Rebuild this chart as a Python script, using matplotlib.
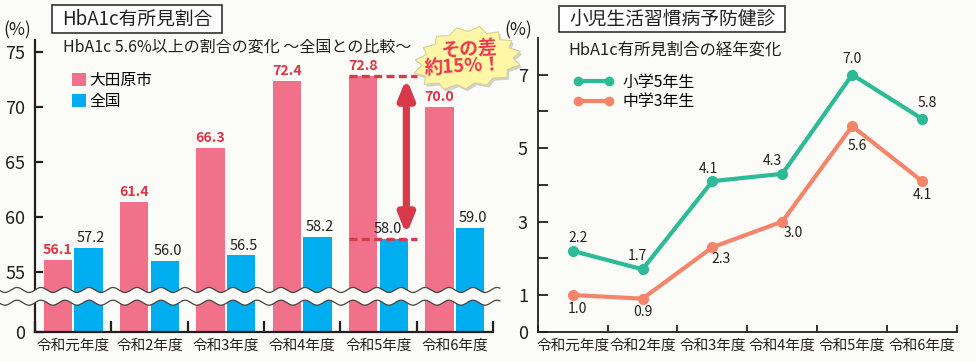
import numpy as np
import matplotlib
matplotlib.use('Agg')
import matplotlib.pyplot as plt
from matplotlib.patches import Patch, Polygon, FancyArrowPatch, Rectangle
from matplotlib.lines import Line2D

plt.rcParams['font.family'] = ['Noto Sans CJK JP', 'DejaVu Sans']

# ---------------- data ----------------
years = ['令和元年度', '令和2年度', '令和3年度', '令和4年度', '令和5年度', '令和6年度']
ohtawara = [56.1, 61.4, 66.3, 72.4, 72.8, 70.0]   # 大田原市
national = [57.2, 56.0, 56.5, 58.2, 58.0, 59.0]   # 全国
elem5 = [2.2, 1.7, 4.1, 4.3, 7.0, 5.8]            # 小学5年生
jh3 = [1.0, 0.9, 2.3, 3.0, 5.6, 4.1]              # 中学3年生
left_yticks = [0, 55, 60, 65, 70, 75]
right_yticks = [0, 1, 3, 5, 7]
right_minor = [2, 4, 6]

# ---------------- styles ----------------
W, H = 976, 362
bg = '#fbfbf8'
ink = '#231f20'
pink = '#f07189'
blue = '#00aeef'
red = '#e03345'
green = '#2dba96'
orange = '#f5856a'

fig = plt.figure(figsize=(W / 100, H / 100), dpi=100)
fig.patch.set_facecolor(bg)


def rect(x0, y0, x1, y1):
    return [x0 / W, 1 - y1 / H, (x1 - x0) / W, (y1 - y0) / H]


def fp(xp, yp):
    return (xp / W, 1 - yp / H)


axL = fig.add_axes(rect(35, 40, 493, 331.7))
axR = fig.add_axes(rect(537.7, 38, 957, 331.7))
for ax in (axL, axR):
    ax.set_facecolor('none')
    ax.spines['top'].set_visible(False)
    ax.spines['right'].set_visible(False)
    for s in ('left', 'bottom'):
        ax.spines[s].set_color(ink)

# ---------------- left: bar chart with broken axis ----------------
BRK = 55.0
LOW = 5.45


def fwd(v):
    v = np.asarray(v, dtype=float)
    return np.where(v >= BRK, v, BRK - (BRK - v) * LOW / BRK)


def inv(u):
    u = np.asarray(u, dtype=float)
    return np.where(u >= BRK, u, BRK - (BRK - u) * BRK / LOW)


axL.set_yscale('function', functions=(fwd, inv))
x = np.arange(len(years))
off, bw = 0.2, 0.37
axL.bar(x - off, ohtawara, bw, color=pink, zorder=2)
axL.bar(x + off, national, bw, color=blue, zorder=2)

for i, v in enumerate(ohtawara):
    axL.annotate(f'{v:.1f}', (i - off, v), xytext=(0, 2), textcoords='offset points',
                 ha='center', va='bottom', color=red, fontsize=10.2, fontweight='bold', zorder=4)
nat_dx = [2, 2, 2, 2, -4, 2]
for i, v in enumerate(national):
    axL.annotate(f'{v:.1f}', (i + off, v), xytext=(nat_dx[i], 2), textcoords='offset points',
                 ha='center', va='bottom', color=ink, fontsize=10.5, zorder=4)

# dashed comparison lines + arrow (令和5年度)
k = 4
dash_col = '#d83a4c'
for v in (ohtawara[k], national[k]):
    axL.plot([k - off - bw / 2, k + 0.5], [v, v], color=dash_col, lw=2.4,
             ls=(0, (2.4, 1.3)), dash_capstyle='butt', zorder=5)
arr = FancyArrowPatch((k + 0.365, national[k]), (k + 0.365, ohtawara[k]),
                      arrowstyle='<|-|>,head_length=11,head_width=4.5', mutation_scale=1,
                      lw=5.2, color=dash_col, shrinkA=3, shrinkB=1.5, zorder=5)
axL.add_patch(arr)

# wavy break band
t = np.linspace(-0.0764, 1.015, 600)
amp = 2.5 / 291.7
per = 24 / 458
wave = amp * np.sin(2 * np.pi * t / per)
y1 = 0.143 + wave
y2 = 0.0994 + wave
poly = np.column_stack([np.r_[t, t[::-1]], np.r_[y1, y2[::-1]]])
axL.add_patch(Polygon(poly, closed=True, transform=axL.transAxes, facecolor=bg,
                      edgecolor='none', clip_on=False, zorder=6))
axL.plot(t, y1, transform=axL.transAxes, color='#444444', lw=0.9, clip_on=False, zorder=7)
axL.plot(t, y2, transform=axL.transAxes, color='#444444', lw=0.9, clip_on=False, zorder=7)

axL.set_xlim(-0.5, 5.5)
axL.set_ylim(0, 76.1)
axL.set_xticks(np.arange(-0.5, 6, 1))
axL.set_xticklabels([])
axL.set_xticks(x, minor=True)
axL.set_xticklabels(years, minor=True)
axL.tick_params(axis='x', which='major', direction='in', length=8, width=1.6, color=ink)
axL.tick_params(axis='x', which='minor', length=0, pad=5, labelsize=10.5, labelcolor=ink)
axL.set_yticks(left_yticks)
axL.set_yticklabels([str(v) for v in left_yticks])
axL.tick_params(axis='y', direction='in', length=6, width=1.6, labelsize=13, pad=7,
                color=ink, labelcolor=ink)
axL.spines['left'].set_linewidth(1.6)
axL.spines['bottom'].set_linewidth(1.6)

legL = axL.legend([Patch(facecolor=pink), Patch(facecolor=blue)], ['大田原市', '全国'],
                  loc='upper left', bbox_to_anchor=fp(72, 72), bbox_transform=fig.transFigure,
                  frameon=False, borderpad=0, borderaxespad=0, handlelength=0.9,
                  handleheight=0.9, handletextpad=0.2, labelspacing=0.25, fontsize=11.3)

# ---------------- right: line chart ----------------
axR.plot(x, elem5, color=green, lw=3, marker='o', ms=7, zorder=3)
axR.plot(x, jh3, color=orange, lw=3, marker='o', ms=7, zorder=3)
g_off = [(5, 13), (-5, 13), (-4, 12), (-10, 13), (0, 16), (5, 16)]
o_off = [(5, -14), (0, -13), (9, -12), (11, -11), (5, -20), (0, -14)]
for i, v in enumerate(elem5):
    axR.annotate(f'{v:.1f}', (i, v), xytext=(g_off[i][0] * 0.72, g_off[i][1] * 0.72),
                 textcoords='offset points', ha='center', va='center', fontsize=10, color=ink)
for i, v in enumerate(jh3):
    axR.annotate(f'{v:.1f}', (i, v), xytext=(o_off[i][0] * 0.72, o_off[i][1] * 0.72),
                 textcoords='offset points', ha='center', va='center', fontsize=10, color=ink)

axR.set_xlim(-0.5, 5.5)
axR.set_ylim(0, 8.0)
axR.set_xticks(np.arange(-0.5, 6, 1))
axR.set_xticklabels([])
axR.set_xticks(x, minor=True)
axR.set_xticklabels(years, minor=True)
axR.tick_params(axis='x', which='major', direction='in', length=5, width=1.3, color=ink)
axR.tick_params(axis='x', which='minor', length=0, pad=5, labelsize=10.5, labelcolor=ink)
axR.set_yticks(right_yticks)
axR.set_yticklabels([str(v) for v in right_yticks])
axR.set_yticks(right_minor, minor=True)
axR.tick_params(axis='y', which='both', direction='in', length=7, width=1.3, labelsize=13,
                pad=7, color=ink, labelcolor=ink)
axR.spines['left'].set_linewidth(1.3)
axR.spines['bottom'].set_linewidth(1.3)

legR = axR.legend([Line2D([], [], color=green, lw=3, marker='o', ms=6),
                   Line2D([], [], color=orange, lw=3, marker='o', ms=6)],
                  ['小学5年生', '中学3年生'], numpoints=2,
                  loc='upper left', bbox_to_anchor=fp(573, 74), bbox_transform=fig.transFigure,
                  frameon=False, borderpad=0, borderaxespad=0, handlelength=2.6,
                  handletextpad=0.5, labelspacing=0.15, fontsize=11.4)

# ---------------- titles / texts ----------------
for (x0, y0, x1, y1, s) in [(52, 5, 222, 33, 'HbA1c有所見割合'),
                            (559, 6, 785, 32, '小児生活習慣病予防健診')]:
    fig.add_artist(Rectangle(fp(x0, y1), (x1 - x0) / W, (y1 - y0) / H,
                             transform=fig.transFigure, facecolor='white', edgecolor=ink, lw=1.1))
    fig.text(*fp((x0 + x1) / 2, (y0 + y1) / 2), s, ha='center', va='center',
             fontsize=13.5, color=ink)

fig.text(*fp(17, 30), '(%)', ha='center', va='center', fontsize=12.5, color=ink)
fig.text(*fp(518, 30), '(%)', ha='center', va='center', fontsize=12.5, color=ink)
fig.text(*fp(63, 47), 'HbA1c 5.6%以上の割合の変化 ～全国との比較～', ha='left', va='center',
         fontsize=11.5, color=ink)
fig.text(*fp(568, 50), 'HbA1c有所見割合の経年変化', ha='left', va='center',
         fontsize=11.8, color=ink)

# ---------------- burst callout ----------------
n = 30
ang = np.linspace(0, 2 * np.pi, n, endpoint=False)
rad = np.where(np.arange(n) % 2 == 0, 1.0, 0.84) * (1 + 0.05 * np.sin(3 * ang))
cx, cy, rx, ry = 467, 59, 54, 31
rot = np.deg2rad(8)
ux = rx * rad * np.cos(ang)
uy = ry * rad * np.sin(ang)
bx = cx + ux * np.cos(rot) + uy * np.sin(rot)
by = cy - ux * np.sin(rot) + uy * np.cos(rot)
shadow = np.column_stack([(bx + 2) / W, 1 - (by + 2.5) / H])
burst = np.column_stack([bx / W, 1 - by / H])
fig.add_artist(Polygon(shadow, closed=True, transform=fig.transFigure, facecolor='#b8b8b0',
                       edgecolor='none', alpha=0.6, zorder=10))
fig.add_artist(Polygon(burst, closed=True, transform=fig.transFigure, facecolor='#fff7a6',
                       edgecolor='#d6cf9a', lw=0.8, zorder=11))
fig.text(*fp(469, 49), 'その差', ha='center', va='center', fontsize=13.5, fontweight='bold',
         color='#e8384f', rotation=3, zorder=12)
fig.text(*fp(463, 66), '約15%！', ha='center', va='center', fontsize=13.5, fontweight='bold',
         color='#e8384f', rotation=3, zorder=12)

fig.savefig('out.png', dpi=100, facecolor=bg)
